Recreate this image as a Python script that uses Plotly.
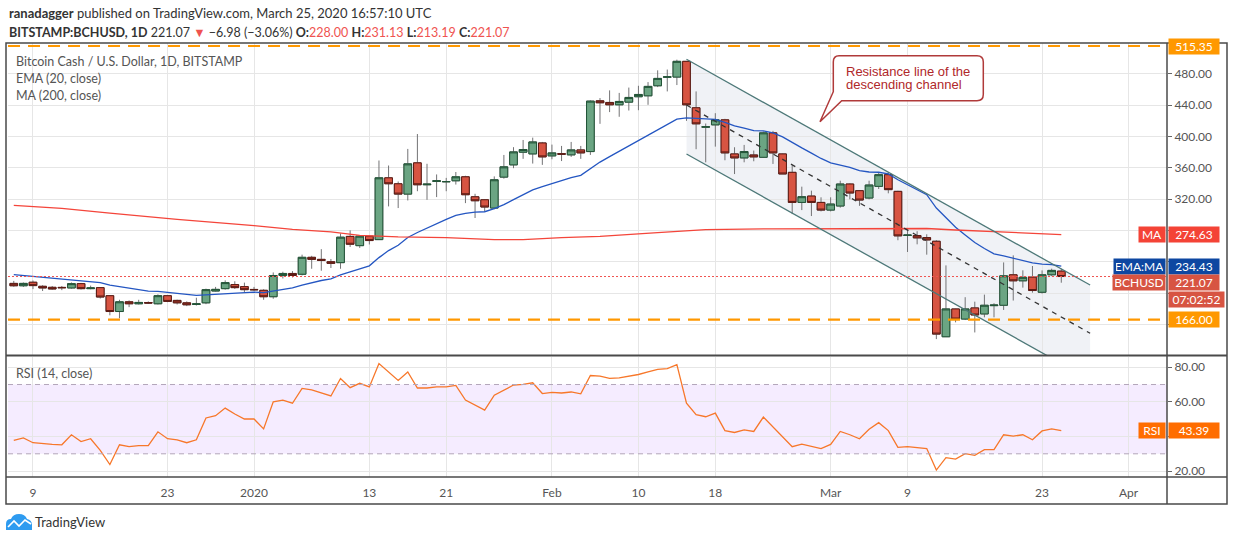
import pandas as pd
import plotly.graph_objects as go

# ----- data -------------------------------------------------------------------
START = "2019-12-07"

opens = [
    212.3, 209.3, 213.8, 208.6, 207.3, 207.2, 206.5, 212.0, 205.6, 206.9,
    196.6, 176.4, 188.8, 186.3, 187.8, 186.3, 196.6, 190.6, 187.5, 185.4,
    187.5, 202.6, 205.6, 210.8, 208.2,
    204.6, 203.5, 195.3, 222.4, 225.0, 224.0, 245.6, 243.0, 240.0, 238.8,
    272.3, 260.5, 272.6, 268.2, 347.1, 339.5, 326.3, 366.2, 338.2, 342.5,
    342.0, 343.3, 348.4, 322.9, 319.1, 308.5, 348.0, 363.6, 379.8, 377.6,
    391.6,
    375.1, 377.9, 376.4, 382.7, 380.6, 445.4, 443.3, 440.3, 443.7, 450.6,
    451.8, 464.6, 475.5, 475.7, 495.8, 436.5, 411.7, 414.7, 421.1, 377.6,
    372.5, 376.3, 373.3, 404.5, 377.6, 354.1, 315.7, 323.8, 315.7,
    305.9, 311.1, 339.2, 330.7, 321.3, 336.2, 351.1, 329.8, 273.5, 273.4,
    270.8, 266.1, 144.2, 179.7, 166.8, 181.0, 173.3, 183.9, 184.4, 223.3,
    215.6, 220.3, 201.0, 223.3, 228.00,
]
highs = [
    215.5, 213.5, 216.0, 210.0, 209.0, 209.0, 213.5, 213.0, 209.5, 207.5,
    197.0, 191.4, 190.6, 191.4, 189.3, 198.3, 197.5, 191.5, 189.3, 194.0,
    205.6, 207.8, 216.2, 215.0, 213.3,
    207.8, 204.8, 226.3, 227.2, 228.0, 249.0, 247.5, 256.0, 243.5, 276.0,
    280.0, 273.5, 273.5, 369.2, 362.8, 342.4, 384.0, 403.0, 365.0, 351.4,
    347.0, 354.5, 349.7, 326.7, 320.0, 348.9, 376.3, 386.2, 395.4, 398.4,
    392.9,
    389.5, 387.8, 392.9, 387.8, 446.0, 448.9, 458.7, 455.5, 462.3, 464.6,
    469.3, 484.3, 485.3, 497.9, 495.8, 457.4, 416.4, 429.6, 422.4, 386.1,
    389.1, 381.9, 406.2, 407.0, 378.0, 362.7, 335.8, 330.7, 322.2,
    322.2, 343.4, 340.0, 331.5, 343.4, 354.1, 354.1, 330.5, 280.2, 278.9,
    275.0, 267.4, 235.3, 180.0, 194.7, 189.0, 198.0, 187.0, 239.1, 248.1,
    229.0, 234.5, 228.9, 231.1, 231.13,
]
lows = [
    208.0, 207.8, 205.0, 202.6, 204.3, 203.7, 205.5, 204.5, 204.8, 193.0,
    171.6, 167.8, 182.0, 185.4, 186.0, 185.4, 188.4, 185.4, 183.3, 184.0,
    185.8, 202.0, 204.3, 205.2, 201.3,
    202.6, 191.4, 192.7, 218.6, 219.9, 222.5, 231.0, 228.5, 232.0, 231.0,
    258.8, 257.6, 262.0, 268.0, 310.6, 308.5, 318.2, 330.0, 319.0, 322.5,
    330.0, 338.5, 314.8, 295.8, 304.0, 307.0, 346.0, 359.4, 371.3, 365.3,
    363.6,
    370.8, 368.5, 373.8, 371.3, 376.3, 416.0, 431.0, 425.0, 433.0, 433.4,
    440.3, 462.9, 457.4, 465.5, 419.8, 383.6, 366.9, 386.9, 369.5, 351.9,
    366.9, 368.2, 372.5, 364.8, 352.0, 300.8, 305.9, 298.3, 304.2,
    304.2, 309.0, 319.6, 311.3, 319.6, 332.8, 327.3, 267.4, 252.4, 262.2,
    249.0, 141.2, 144.2, 162.6, 165.5, 149.7, 169.0, 169.0, 178.4, 190.4,
    206.9, 200.5, 199.3, 221.6, 213.19,
]
closes = [
    209.3, 212.3, 209.5, 206.5, 205.2, 206.8, 212.0, 205.6, 206.5, 194.9,
    176.4, 188.8, 186.3, 188.0, 187.3, 196.6, 189.3, 187.5, 185.0, 186.2,
    204.3, 204.7, 213.3, 206.9, 204.3,
    204.2, 195.3, 222.4, 225.0, 222.4, 245.6, 243.0, 241.7, 237.9, 271.3,
    262.3, 272.6, 267.0, 347.1, 339.5, 326.3, 364.9, 338.2, 339.0, 343.3,
    342.3, 348.4, 325.5, 317.8, 309.8, 344.6, 361.1, 380.2, 383.2, 392.9,
    373.8,
    378.9, 377.3, 382.7, 378.9, 445.0, 442.9, 440.3, 444.6, 449.7, 453.5,
    463.8, 474.0, 476.0, 495.8, 440.3, 416.0, 412.3, 421.1, 378.9, 372.5,
    380.6, 373.8, 404.5, 378.9, 352.0, 315.7, 323.0, 315.7, 305.9,
    313.6, 339.2, 327.7, 318.7, 337.9, 351.1, 332.0, 273.0, 274.0, 270.4,
    267.8, 147.6, 179.7, 166.8, 179.7, 172.0, 184.4, 184.6, 222.0, 215.6,
    220.0, 203.2, 223.3, 228.9, 221.07,
]

ema20 = [
    223.5, 222.4, 221.2, 220.0, 218.9, 217.9, 217.3, 216.3, 215.4, 213.4,
    210.0, 207.9, 205.8, 204.1, 202.5, 202.0, 200.8, 199.5, 198.1, 197.0,
    197.7, 198.4, 199.8, 200.4, 200.8,
    201.1, 200.6, 202.7, 204.8, 206.5, 210.2, 213.3, 216.0, 218.1, 223.2,
    226.9, 231.3, 234.7, 245.2, 254.2, 261.0, 270.9, 277.3, 283.2, 288.9,
    294.0, 299.2, 301.7, 303.2, 303.8, 307.7, 312.8, 319.2, 325.3, 331.8,
    335.8,
    339.9, 343.5, 347.2, 350.2, 359.2, 367.2, 374.2, 381.0, 387.6, 393.9,
    400.6, 407.6, 414.1, 421.9, 423.6, 422.9, 421.9, 421.8, 417.8, 413.5,
    410.4, 407.3, 407.1, 404.4, 399.4, 391.9, 385.3, 378.7, 371.8,
    366.3, 363.7, 360.3, 356.2, 354.5, 354.2, 352.1, 344.6, 337.9, 331.5,
    325.5, 308.5, 296.2, 284.1, 274.2, 264.6, 256.9, 250.0, 247.4, 244.4,
    242.1, 238.4, 237.0, 236.2, 234.43,
]

ma200_dates = [
    "2019-12-07", "2019-12-12", "2019-12-17", "2019-12-24", "2020-01-01",
    "2020-01-05", "2020-01-09", "2020-01-12", "2020-01-16", "2020-01-21",
    "2020-01-26", "2020-01-29", "2020-02-02", "2020-02-06", "2020-02-12",
    "2020-02-17", "2020-02-24", "2020-03-04", "2020-03-11", "2020-03-14",
    "2020-03-25",
]
ma200 = [
    312.0, 308.0, 302.0, 294.0, 286.0,
    281.3, 278.0, 273.7, 271.6, 270.7,
    268.2, 268.2, 270.7, 272.4, 277.0,
    281.0, 282.0, 282.4, 282.4, 280.5,
    274.63,
]

rsi14 = [
    37.7, 39.2, 36.4, 35.8, 35.4, 35.2, 41.0, 37.1, 38.7, 32.0,
    23.8, 35.2, 34.1, 34.7, 34.7, 42.7, 38.7, 38.1, 36.4, 38.1,
    50.7, 52.0, 56.4, 53.0, 50.1,
    50.1, 44.4, 60.0, 61.0, 59.2, 67.8, 66.9, 65.3, 63.4, 73.5,
    68.2, 70.7, 68.6, 82.1, 77.3, 72.4, 77.3, 68.0, 68.0, 68.6,
    68.6, 69.5, 61.0, 58.3, 55.2, 63.8, 66.7, 69.7, 70.1, 71.0,
    64.8,
    65.5, 65.1, 65.7, 64.6, 75.2, 74.8, 73.6, 73.9, 74.9, 75.8,
    77.3, 78.7, 79.2, 81.5, 59.2, 52.6, 51.4, 53.5, 43.4, 42.3,
    43.8, 42.9, 51.2, 45.3, 40.0, 34.1, 35.6, 34.3, 33.0,
    35.4, 42.9, 41.0, 38.7, 44.2, 48.0, 43.4, 33.7, 34.1, 33.5,
    33.0, 20.6, 27.8, 26.9, 30.1, 29.1, 32.4, 32.4, 41.0, 40.2,
    41.0, 38.1, 43.2, 44.4, 43.39,
]

# price grid; the labels hidden behind the right-hand tags are left blank
price_ticks = [160, 200, 240, 280, 320, 360, 400, 440, 480]
price_labels = ["", "", "", "", "320.00", "360.00", "400.00", "440.00", "480.00"]
rsi_ticks = [20, 40, 60, 80]
rsi_labels = ["20.00", "", "60.00", "80.00"]
date_ticks = ["2019-12-09", "2019-12-23", "2020-01-01", "2020-01-13", "2020-01-21",
              "2020-02-01", "2020-02-10", "2020-02-18", "2020-03-01", "2020-03-09",
              "2020-03-23", "2020-04-01"]
date_labels = ["9", "23", "2020", "13", "21", "Feb", "10", "18", "Mar", "9", "23", "Apr"]

resistance_hi = 515.35
support_lo = 166.00
last_close = closes[-1]
last_ema = ema20[-1]
last_ma = ma200[-1]
last_rsi = rsi14[-1]

# descending channel drawing (anchor points of the trend lines)
chan_t0, chan_t1 = "2020-02-15", "2020-03-28"
chan_upper = (498.4, 210.2)
chan_mid = (440.0, 148.6)
chan_lower = (377.5, 89.4)

# ----- styling ----------------------------------------------------------------
FONT = "Lato"
UP_FILL, UP_LINE = "#6BA583", "#225437"
DN_FILL, DN_LINE = "#D75442", "#5B1A13"
WICK = "#737375"
GRID = "#e6e6e6"
ORANGE = "#ff9800"
TEXT = "#4a4a4a"

# figure pixel frame: plot area spans x 8..1167, y 43..477
W, H = 1234, 541
L, R, T, B = 8, 1167, 43, 477


def px(x):
    return (x - L) / (R - L)


def py(y):
    return (B - y) / (B - T)


dates = pd.date_range(START, periods=len(closes), freq="D")
body_hi = [max(o, c) for o, c in zip(opens, closes)]
body_lo = [min(o, c) for o, c in zip(opens, closes)]

fig = go.Figure()

# wicks (grey), then bodies with their dark outlines
fig.add_trace(go.Candlestick(
    x=dates, open=opens, high=highs, low=lows, close=closes,
    increasing=dict(line=dict(color=WICK, width=1), fillcolor=UP_FILL),
    decreasing=dict(line=dict(color=WICK, width=1), fillcolor=DN_FILL),
    whiskerwidth=0, showlegend=False, hoverinfo="skip",
))
fig.add_trace(go.Candlestick(
    x=dates, open=opens, high=body_hi, low=body_lo, close=closes,
    increasing=dict(line=dict(color=UP_LINE, width=1), fillcolor=UP_FILL),
    decreasing=dict(line=dict(color=DN_LINE, width=1), fillcolor=DN_FILL),
    whiskerwidth=0, showlegend=False,
))
fig.add_trace(go.Scatter(x=dates, y=ema20, mode="lines",
                         line=dict(color="#2456c2", width=1.3), showlegend=False))
fig.add_trace(go.Scatter(x=pd.to_datetime(ma200_dates), y=ma200, mode="lines",
                         line=dict(color="#f4453a", width=1.3), showlegend=False))
fig.add_trace(go.Scatter(x=dates, y=rsi14, mode="lines", yaxis="y2",
                         line=dict(color="#f7772a", width=1.3), showlegend=False))

shapes = []
# channel shading + lines
shapes.append(dict(
    type="path", xref="x", yref="y", layer="below",
    path=(f"M {chan_t0} {chan_upper[0]} L {chan_t1} {chan_upper[1]} "
          f"L {chan_t1} {chan_lower[1]} L {chan_t0} {chan_lower[0]} Z"),
    fillcolor="rgba(222,226,234,0.45)", line=dict(width=0),
))
for (a, b), dash, col in [(chan_upper, "solid", "#4d7878"),
                          (chan_lower, "solid", "#4d7878"),
                          (chan_mid, "5px,5px", "#333333")]:
    shapes.append(dict(type="line", xref="x", yref="y", x0=chan_t0, y0=a,
                       x1=chan_t1, y1=b, line=dict(color=col, width=1.3, dash=dash)))

# horizontal levels
for lvl in (resistance_hi, support_lo):
    shapes.append(dict(type="line", xref="paper", yref="y", x0=0, x1=1, y0=lvl, y1=lvl,
                       line=dict(color=ORANGE, width=2.2, dash="12px,8px")))
shapes.append(dict(type="line", xref="paper", yref="y", x0=0, x1=1,
                   y0=last_close, y1=last_close,
                   line=dict(color="#ef5350", width=1, dash="2px,2px")))

# RSI band
shapes.append(dict(type="rect", xref="paper", yref="y2", x0=0, x1=1, y0=30, y1=70,
                   fillcolor="rgba(160,80,255,0.11)", line=dict(width=0), layer="below"))
for lvl in (30, 70):
    shapes.append(dict(type="line", xref="paper", yref="y2", x0=0, x1=1, y0=lvl, y1=lvl,
                       line=dict(color="#b3a6ba", width=1, dash="5px,4px")))

# frame
BORDER = "#4a4a4a"
shapes.append(dict(type="rect", xref="paper", yref="paper", x0=px(6), x1=px(1227),
                   y0=py(504), y1=py(43), line=dict(color=BORDER, width=1.5)))
shapes.append(dict(type="line", xref="paper", yref="paper", x0=px(R), x1=px(R),
                   y0=py(504), y1=py(43), line=dict(color=BORDER, width=1.5)))
for yy, wd in [(355.5, 2), (477, 1.5)]:
    shapes.append(dict(type="line", xref="paper", yref="paper", x0=px(6), x1=px(1227),
                       y0=py(yy), y1=py(yy), line=dict(color=BORDER, width=wd)))

# callout box with its tail
pts = (f"M {px(839)},{py(55.7)} L {px(977)},{py(55.7)} "
       f"Q {px(983.3)},{py(55.7)} {px(983.3)},{py(62)} L {px(983.3)},{py(94.5)} "
       f"Q {px(983.3)},{py(100.7)} {px(977)},{py(100.7)} L {px(841.7)},{py(100.7)} "
       f"L {px(820)},{py(121.7)} L {px(833.3)},{py(91.7)} L {px(833.3)},{py(62)} "
       f"Q {px(833.3)},{py(55.7)} {px(839)},{py(55.7)} Z")
shapes.append(dict(type="path", xref="paper", yref="paper", path=pts,
                   fillcolor="white", line=dict(color="#b03a3a", width=1.5)))

# TradingView logo mark
logo = (f"M {px(6)},{py(530)} L {px(6)},{py(524)} Q {px(6)},{py(519)} {px(11)},{py(519)} "
        f"Q {px(13)},{py(514)} {px(19)},{py(514)} Q {px(25)},{py(514)} {px(27)},{py(519)} "
        f"Q {px(32)},{py(520)} {px(32)},{py(525)} L {px(32)},{py(530)} Z")
shapes.append(dict(type="path", xref="paper", yref="paper", path=logo,
                   fillcolor="#2e9bf0", line=dict(width=0)))
shapes.append(dict(type="path", xref="paper", yref="paper",
                   path=(f"M {px(8)},{py(527)} L {px(14)},{py(521)} L {px(19)},{py(526)} "
                         f"L {px(25)},{py(520)} L {px(31)},{py(524)}"),
                   line=dict(color="white", width=1.6)))

ann = []


def text(x, y, s, size=12, color=TEXT, family=FONT, xanchor="left"):
    ann.append(dict(xref="paper", yref="paper", x=px(x), y=py(y), text=s,
                    showarrow=False, xanchor=xanchor, yanchor="middle",
                    font=dict(family=family, size=size, color=color)))


RED = "#ef5350"
text(7, 13, "<b>ranadagger</b> published on TradingView.com, March 25, 2020 16:57:10 UTC",
     size=13, color="#333")
text(7, 32, (f"<b>BITSTAMP:BCHUSD, 1D</b> {last_close:.2f} <span style='color:{RED}'>▼</span> "
             f"−6.98 (−3.06%) <b>O:</b><span style='color:{RED}'>{opens[-1]:.2f}</span> "
             f"<b>H:</b><span style='color:{RED}'>{highs[-1]:.2f}</span> "
             f"<b>L:</b><span style='color:{RED}'>{lows[-1]:.2f}</span> "
             f"<b>C:</b><span style='color:{RED}'>{closes[-1]:.2f}</span>"),
     size=12.5, color="#333")
text(14, 61, "Bitcoin Cash / U.S. Dollar, 1D, BITSTAMP", size=12.5, color="#555")
text(14, 78, "EMA (20, close)", size=12.5, color="#555")
text(14, 95, "MA (200, close)", size=12.5, color="#555")
text(14, 373, "RSI (14, close)", size=12.5, color="#555")
text(33, 522, "TradingView", size=13, color="#333")
text(844, 71.5, "Resistance line of the", size=13, color="#b0282a", family="Liberation Sans")
text(844, 84, "descending channel", size=13, color="#b0282a", family="Liberation Sans")


def tag(y, s, bg, yref="y", side="right", yshift=0, width=46):
    ann.append(dict(xref="paper", yref=yref, y=y, yshift=yshift,
                    x=px(R + 1) if side == "right" else px(R - 1),
                    xanchor="left" if side == "right" else "right",
                    text=s, showarrow=False, bgcolor=bg, borderpad=2,
                    width=width, height=11,
                    font=dict(family=FONT, size=12, color="white")))


tag(resistance_hi, f"{resistance_hi:.2f}", ORANGE)
tag(support_lo, f"{support_lo:.2f}", ORANGE)
tag(last_ma, f"{last_ma:.2f}", "#f44336")
tag(last_ma, "MA", "#f44336", side="left", width=22)
tag(last_ema, f"{last_ema:.2f}", "#0d47a1")
tag(last_ema, "EMA:MA", "#0d47a1", side="left", width=47)
tag(last_close, f"{last_close:.2f}", DN_FILL, yshift=-6)
tag(last_close, "BCHUSD", DN_FILL, side="left", yshift=-6, width=48)
tag(last_close, "07:02:52", DN_FILL, yshift=-23, width=51)
tag(last_rsi, f"{last_rsi:.2f}", "#ff6d00", yref="y2")
tag(last_rsi, "RSI", "#ff6d00", yref="y2", side="left", width=22)

fig.update_layout(
    width=W, height=H,
    margin=dict(l=L, r=W - R, t=T, b=H - B),
    paper_bgcolor="white", plot_bgcolor="white",
    font=dict(family=FONT, size=12, color=TEXT),
    showlegend=False,
    boxgap=0.2, boxgroupgap=0,
    xaxis=dict(
        type="date", anchor="y2", domain=[0, 1],
        range=["2019-12-06 09:36", "2020-04-05 00:00"],
        tickvals=date_ticks, ticktext=date_labels,
        showgrid=True, gridcolor=GRID, gridwidth=1,
        tickfont=dict(size=12, color="#555"), ticks="", showline=False,
        ticklabelstandoff=7,
        zeroline=False, rangeslider=dict(visible=False), fixedrange=True,
    ),
    yaxis=dict(
        domain=[py(355), 1], side="right", anchor="x",
        range=[120.9, 519.2], tickvals=price_ticks, ticktext=price_labels,
        showgrid=True, gridcolor=GRID, zeroline=False,
        ticks="outside", ticklen=4, tickcolor="#666",
        tickfont=dict(size=12, color="#555"),
    ),
    yaxis2=dict(
        domain=[0, py(357)], side="right", anchor="x",
        range=[16.6, 85.9], tickvals=rsi_ticks, ticktext=rsi_labels,
        showgrid=True, gridcolor=GRID, zeroline=False,
        ticks="outside", ticklen=4, tickcolor="#666",
        tickfont=dict(size=12, color="#555"),
    ),
    shapes=shapes, annotations=ann,
)

# the page's default 8px body margin would shift the whole picture
fig.write_html("out.html", config={"displayModeBar": False},
               post_script="document.body.style.margin='0px';")
